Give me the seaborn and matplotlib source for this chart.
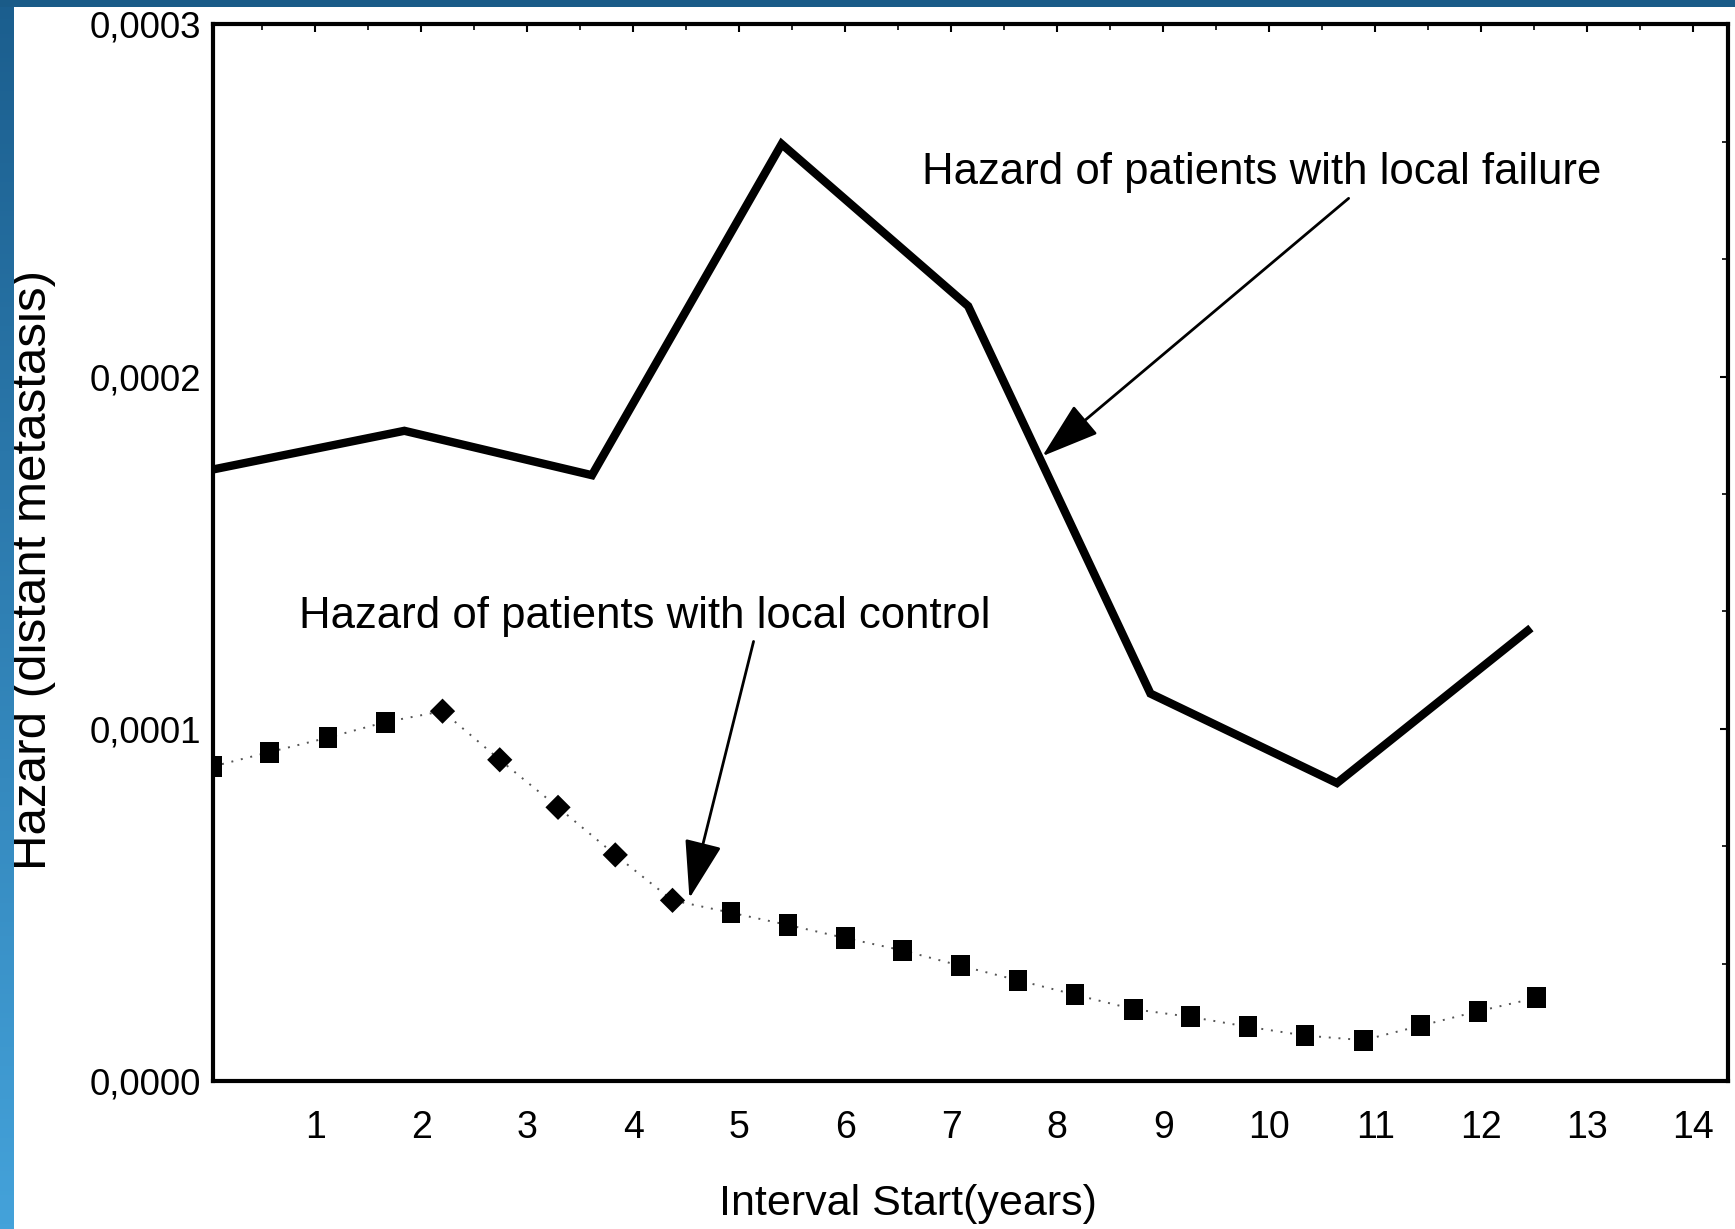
import numpy as np
import pandas as pd
import matplotlib
matplotlib.use("Agg")
import matplotlib.pyplot as plt
import seaborn as sns
from matplotlib.ticker import FuncFormatter, MultipleLocator, AutoMinorLocator

# values
failure_years = [0.03, 1.84, 3.61, 5.40, 7.16, 8.88, 10.64, 12.47]
failure_hazard = [1.736e-4, 1.846e-4, 1.720e-4, 2.660e-4, 2.200e-4, 1.100e-4, 0.846e-4, 1.286e-4]

control_years = [0.03, 0.57, 1.12, 1.66, 2.20, 2.74, 3.29, 3.83, 4.37, 4.92, 5.46, 6.00,
                 6.54, 7.09, 7.63, 8.17, 8.72, 9.26, 9.80, 10.34, 10.89, 11.43, 11.97, 12.52]
control_hazard = [0.893e-4, 0.934e-4, 0.975e-4, 1.019e-4, 1.050e-4, 0.912e-4, 0.777e-4, 0.642e-4,
                  0.513e-4, 0.478e-4, 0.443e-4, 0.406e-4, 0.371e-4, 0.327e-4, 0.286e-4, 0.245e-4,
                  0.204e-4, 0.182e-4, 0.154e-4, 0.129e-4, 0.116e-4, 0.157e-4, 0.198e-4, 0.236e-4]

x_ticks = list(range(1, 15))
y_ticks = [0.0, 0.0001, 0.0002, 0.0003]

failure = pd.DataFrame({"year": failure_years, "hazard": failure_hazard})
control = pd.DataFrame({"year": control_years, "hazard": control_hazard})
# the middle points of the control curve are drawn as diamonds
control["shape"] = ["square"] * len(control)
control.loc[4:8, "shape"] = "diamond"

sns.set_style("white")
plt.rcParams["font.family"] = ["Liberation Sans", "DejaVu Sans"]
plt.rcParams["text.color"] = "black"
plt.rcParams["xtick.color"] = "black"
plt.rcParams["ytick.color"] = "black"
plt.rcParams["axes.labelcolor"] = "black"

fig = plt.figure(figsize=(17.35, 12.29), dpi=100)
ax = fig.add_axes([0.1225, 0.1204, 0.8735, 0.8598])

# solid curve
sns.lineplot(data=failure, x="year", y="hazard", ax=ax, color="black", lw=6,
             solid_joinstyle="miter", solid_capstyle="butt")

# dotted curve with markers
sns.lineplot(data=control, x="year", y="hazard", ax=ax, color="#555555", lw=1.4,
             linestyle=(0, (1, 4)))
rect = [(-0.44, -0.5), (0.44, -0.5), (0.44, 0.5), (-0.44, 0.5), (-0.44, -0.5)]
diam = [(0, -0.5), (0.5, 0), (0, 0.5), (-0.5, 0), (0, -0.5)]
sns.scatterplot(data=control, x="year", y="hazard", style="shape", size="shape",
                markers={"square": rect, "diamond": diam},
                sizes={"square": 230, "diamond": 330}, color="black",
                edgecolor="black", linewidth=0, ax=ax, legend=False, zorder=5)

ax.set_xlim(0.03, 14.33)
ax.set_ylim(0, 0.0003)
ax.set_xticks(x_ticks)
ax.set_yticks(y_ticks)
ax.yaxis.set_major_formatter(FuncFormatter(lambda v, p: f"{v:.4f}".replace(".", ",")))
ax.xaxis.set_minor_locator(MultipleLocator(0.5))
ax.yaxis.set_minor_locator(AutoMinorLocator(3))
ax.tick_params(axis="both", which="both", direction="in", top=True, right=True)
ax.tick_params(axis="both", which="major", length=6, width=1.5)
ax.tick_params(axis="both", which="minor", length=4, width=1.2)
ax.tick_params(axis="x", which="major", labelsize=27, pad=21)
ax.tick_params(axis="y", which="major", labelsize=26.5, pad=8)
for s in ax.spines.values():
    s.set_visible(True)
    s.set_color("black")
    s.set_linewidth(3)

ax.set_xlabel("Interval Start(years)", fontsize=31)
ax.set_ylabel("Hazard (distant metastasis)", fontsize=35.5)
ax.xaxis.set_label_coords(0.459, -0.097)
ax.yaxis.set_label_coords(-0.1036, 0.484)

arrow = dict(arrowstyle="-|>,head_length=1.3,head_width=0.42", color="black", lw=2,
             mutation_scale=28, shrinkA=0, shrinkB=0)
ax.annotate("Hazard of patients with local failure", xy=(7.86, 1.774e-4),
            xytext=(6.72, 2.58e-4), fontsize=31.5, va="center", ha="left")
ax.annotate("", xy=(7.86, 1.774e-4), xytext=(10.75, 2.506e-4), arrowprops=arrow)
ax.annotate("Hazard of patients with local control", xy=(4.53, 0.519e-4),
            xytext=(0.85, 1.32e-4), fontsize=31.5, va="center", ha="left")
ax.annotate("", xy=(4.53, 0.519e-4), xytext=(5.135, 1.248e-4), arrowprops=arrow)

# blue slide frame around the scan
left = fig.add_axes([0, 0, 13 / 1735, 1])
grad = np.linspace(0, 1, 256).reshape(-1, 1)
left.imshow(grad, aspect="auto", cmap=matplotlib.colors.LinearSegmentedColormap.from_list(
    "b", ["#1b5e8e", "#44a2da"]), extent=[0, 1, 0, 1], origin="upper")
left.axis("off")
top = fig.add_axes([0, 1 - 7 / 1229, 1, 7 / 1229])
top.set_facecolor("#1a5b88")
top.set_xticks([])
top.set_yticks([])
for s in top.spines.values():
    s.set_visible(False)

fig.savefig("out.png", dpi=100)
